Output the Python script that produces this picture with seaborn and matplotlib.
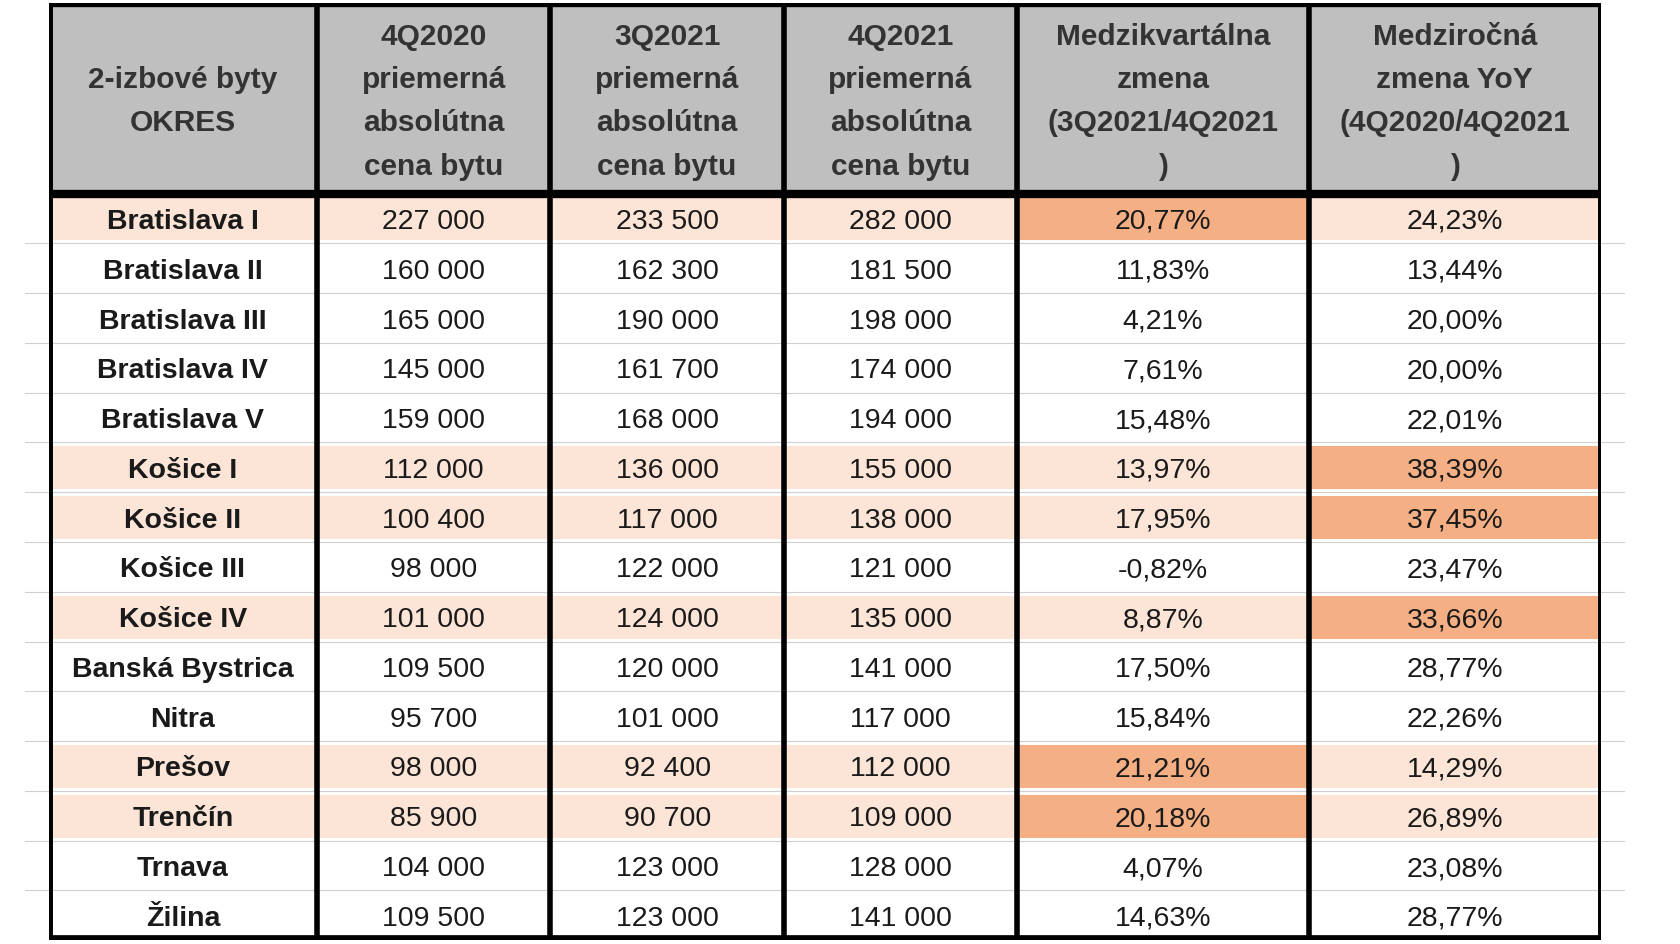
import numpy as np
import matplotlib
matplotlib.use("Agg")
import matplotlib.pyplot as plt
from matplotlib.colors import ListedColormap
import seaborn as sns

header = ["2-izbové byty\nOKRES", "4Q2020\npriemerná\nabsolútna\ncena bytu", "3Q2021\npriemerná\nabsolútna\ncena bytu",
          "4Q2021\npriemerná\nabsolútna\ncena bytu", "Medzikvartálna\nzmena\n(3Q2021/4Q2021\n)",
          "Medziročná\nzmena YoY\n(4Q2020/4Q2021\n)"]
okres = ["Bratislava I", "Bratislava II", "Bratislava III", "Bratislava IV", "Bratislava V", "Košice I", "Košice II",
         "Košice III", "Košice IV", "Banská Bystrica", "Nitra", "Prešov", "Trenčín", "Trnava", "Žilina"]
cena_4q2020 = ["227 000", "160 000", "165 000", "145 000", "159 000", "112 000", "100 400", "98 000", "101 000",
               "109 500", "95 700", "98 000", "85 900", "104 000", "109 500"]
cena_3q2021 = ["233 500", "162 300", "190 000", "161 700", "168 000", "136 000", "117 000", "122 000", "124 000",
               "120 000", "101 000", "92 400", "90 700", "123 000", "123 000"]
cena_4q2021 = ["282 000", "181 500", "198 000", "174 000", "194 000", "155 000", "138 000", "121 000", "135 000",
               "141 000", "117 000", "112 000", "109 000", "128 000", "141 000"]
qoq = ["20,77%", "11,83%", "4,21%", "7,61%", "15,48%", "13,97%", "17,95%", "-0,82%", "8,87%", "17,50%", "15,84%",
       "21,21%", "20,18%", "4,07%", "14,63%"]
yoy = ["24,23%", "13,44%", "20,00%", "20,00%", "22,01%", "38,39%", "37,45%", "23,47%", "33,66%", "28,77%", "22,26%",
       "14,29%", "26,89%", "23,08%", "28,77%"]
pink_rows = ["Bratislava I", "Košice I", "Košice II", "Košice IV", "Prešov", "Trenčín"]
orange_qoq = ["Bratislava I", "Prešov", "Trenčín"]
orange_yoy = ["Košice I", "Košice II", "Košice IV"]

col_units = [23, 20, 20, 20, 25, 25]
hdr_units, row_units = 23, 6

# code: 0 white, 1 pink, 2 orange, 3 gray
codes = [[3] * 6]
for n in okres:
    r = [1 if n in pink_rows else 0] * 6
    if n in orange_qoq: r[4] = 2
    if n in orange_yoy: r[5] = 2
    codes.append(r)
codes = np.array(codes)
rows_rep = [hdr_units] + [row_units] * len(okres)
grid = np.repeat(np.repeat(codes, rows_rep, axis=0), col_units, axis=1)

fig = plt.figure(figsize=(16.8, 9.45), dpi=100)
ax = fig.add_axes([0.029, 0.004, 0.934 * 0.989, 0.992])
cmap = ListedColormap(["#FFFFFF", "#FCE4D6", "#F4B084", "#BFBFBF"])
sns.heatmap(grid, ax=ax, cmap=cmap, vmin=-0.5, vmax=3.5, cbar=False, xticklabels=False, yticklabels=False)

xb = np.concatenate([[0], np.cumsum(col_units)])
yb = np.concatenate([[0], np.cumsum(rows_rep)])
W, H = xb[-1], yb[-1]
for y in yb[2:-1]:
    ax.plot([0, W], [y, y], color="white", lw=5, solid_capstyle="butt")
    ax.plot([-2, W + 2], [y, y], color="#D0D0D0", lw=0.8, clip_on=False)
for y, lw in [(0, 6), (yb[1], 6), (H, 7)]:
    ax.plot([0, W], [y, y], color="black", lw=lw, solid_capstyle="projecting")
for x in xb:
    ax.plot([x, x], [0, H], color="black", lw=5 if x in (0, W) else 4)

font = "Liberation Sans"
for j, h in enumerate(header):
    ax.text((xb[j] + xb[j + 1]) / 2, hdr_units / 2 + 0.3, h, ha="center", va="center", fontsize=21.5,
            fontweight="bold", color="#333333", family=font, linespacing=1.7)
cols = [okres, cena_4q2020, cena_3q2021, cena_4q2021, qoq, yoy]
for j, col in enumerate(cols):
    for i, v in enumerate(col):
        ax.text((xb[j] + xb[j + 1]) / 2, yb[i + 1] + row_units / 2 + 0.3, v, ha="center", va="center",
                fontsize=20.5, fontweight="bold" if j == 0 else "normal", color="#1a1a1a", family=font)
ax.set_xlim(0, W)
ax.set_ylim(H, 0)
fig.savefig("out.png", dpi=100)
